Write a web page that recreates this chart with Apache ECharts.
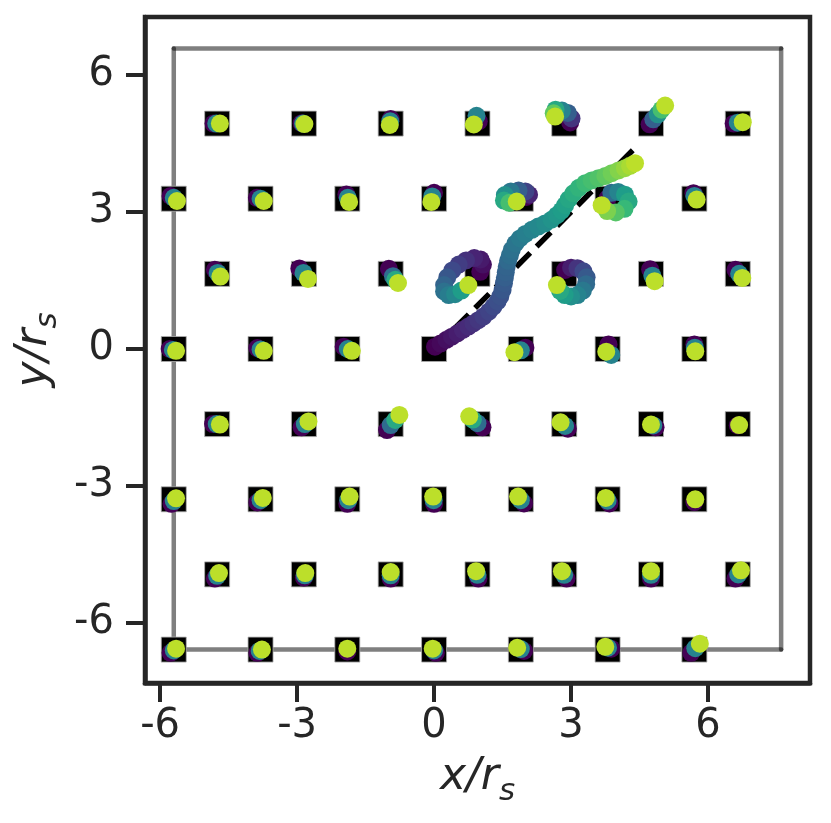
<!DOCTYPE html>
<html><head><meta charset="utf-8">
<script src="https://cdn.jsdelivr.net/npm/echarts@6/dist/echarts.min.js"></script>
<style>html,body{margin:0;padding:0;background:#fff}#c{width:831px;height:823px}</style>
</head><body><div id="c"></div>
<script>
// ---- axes ----
const xTicks = [-6, -3, 0, 3, 6];
const yTicks = [-6, -3, 0, 3, 6];
// ---- lattice sites (hexagonal, rows from top to bottom) ----
const rowY = [4.936, 3.291, 1.645, 0, -1.645, -3.291, -4.936, -6.582];
const oddRowX = [-4.75, -2.85, -0.95, 0.95, 2.85, 4.75, 6.65];
const evenRowX = [-5.7, -3.8, -1.9, 0, 1.9, 3.8, 5.7];
// ---- periodic box and drive direction ----
const boxCorners = [[-5.7, -6.582], [7.6, -6.582], [7.6, 6.582], [-5.7, 6.582]];
const driveLine = [[0, 0], [4.47, 4.47]];
// ---- small trails: offsets [dx, dy, t] from each site (null = long trail listed below) ----
const trailsRow0 = [
  [[-0.08,0,0],[-0.02,0,0.45],[0.06,0,0.9]],
  [[-0.05,0.01,0],[-0.02,0,0.45],[0.01,-0.01,0.9]],
  [[0,0.1,0],[-0.01,0.05,0.45],[-0.02,-0.03,0.9]],
  [[0.03,0.05,0],[-0.02,0.17,0.45],[-0.08,-0.02,0.9]],
  null, null,
  [[-0.09,0,0],[0,0.02,0.45],[0.11,0.03,0.9]]
];
const trailsRow1 = [
  [[-0.07,0.06,0],[0,0.02,0.45],[0.07,-0.05,0.9]],
  [[-0.08,0.02,0],[0,0,0.45],[0.07,-0.05,0.9]],
  [[-0.02,0.09,0],[0.01,0.02,0.45],[0.04,-0.07,0.9]],
  [[0,0.13,0],[-0.04,0.05,0.45],[-0.06,-0.07,0.9]],
  null, null,
  [[-0.02,0.12,0],[0,0.06,0.45],[0.05,-0.02,0.9]]
];
const trailsRow2 = [
  [[-0.05,0.09,0],[0.01,0.02,0.45],[0.07,-0.06,0.9]],
  [[-0.1,0.12,0],[-0.01,0.02,0.45],[0.09,-0.11,0.9]],
  [[-0.04,0.11,0],[0.05,-0.05,0.35],[0.1,-0.13,0.6],[0.16,-0.2,0.9]],
  null, null,
  [[-0.02,0.1,0],[0.03,-0.04,0.45],[0.08,-0.16,0.9]],
  [[-0.05,0.09,0],[0.03,0,0.45],[0.1,-0.09,0.9]]
];
const trailsRow3 = [
  [[-0.09,0,0],[-0.02,-0.02,0.45],[0.05,-0.04,0.9]],
  [[-0.07,0.02,0],[0,-0.01,0.45],[0.07,-0.04,0.9]],
  [[-0.08,0.05,0],[0.01,0,0.45],[0.1,-0.04,0.9]],
  null,
  [[0.1,0.03,0],[0,-0.03,0.45],[-0.14,-0.07,0.9]],
  [[0.02,0.1,0],[0.08,-0.13,0.45],[-0.03,-0.06,0.9]],
  [[0,0.1,0],[0.01,0.03,0.45],[0.02,-0.05,0.9]]
];
const trailsRow4 = [
  [[-0.09,0,0],[-0.01,0,0.45],[0.06,-0.01,0.9]],
  [[-0.05,-0.07,0],[0.02,0,0.45],[0.1,0.06,0.9]],
  [[-0.08,-0.13,0],[0,-0.02,0.35],[0.1,0.09,0.6],[0.19,0.2,0.9]],
  [[0.11,-0.07,0],[0,0.02,0.35],[-0.1,0.1,0.6],[-0.18,0.17,0.9]],
  [[0.08,-0.1,0],[0.02,-0.04,0.45],[-0.08,0.04,0.9]],
  [[0.1,-0.07,0],[0.05,-0.03,0.45],[0,-0.01,0.9]],
  [[0,-0.03,0],[0.03,-0.02,0.9]]
];
const trailsRow5 = [
  [[-0.05,-0.1,0],[0,-0.04,0.45],[0.05,0.02,0.9]],
  [[-0.07,-0.07,0],[0,-0.02,0.45],[0.05,0.03,0.9]],
  [[0,-0.1,0],[0.02,-0.02,0.45],[0.05,0.06,0.9]],
  [[0,-0.1,0],[-0.01,-0.02,0.45],[-0.02,0.06,0.9]],
  [[0.07,-0.09,0],[0,-0.02,0.45],[-0.06,0.06,0.9]],
  [[0.04,-0.09,0],[0,-0.03,0.45],[-0.04,0.03,0.9]],
  [[0,-0.06,0],[0.02,0,0.9]]
];
const trailsRow6 = [
  [[-0.05,-0.09,0],[0,-0.03,0.45],[0.04,0.03,0.9]],
  [[0,-0.07,0],[0.02,-0.02,0.45],[0.03,0.03,0.9]],
  [[0,-0.09,0],[0,-0.02,0.45],[0,0.05,0.9]],
  [[0.02,-0.09,0],[0,-0.01,0.45],[-0.03,0.07,0.9]],
  [[0.05,-0.09,0],[0,-0.01,0.45],[-0.05,0.07,0.9]],
  [[0,-0.09,0],[0,-0.01,0.45],[0,0.07,0.9]],
  [[-0.05,-0.09,0],[0.01,0,0.45],[0.07,0.09,0.9]]
];
const trailsRow7 = [
  [[-0.07,-0.07,0],[0,-0.02,0.45],[0.05,0.02,0.9]],
  [[-0.07,-0.07,0],[-0.02,-0.03,0.45],[0.03,0,0.9]],
  [[0,-0.04,0],[0,0.02,0.9]],
  [[0.04,-0.07,0],[0,-0.02,0.45],[-0.03,0.02,0.9]],
  [[0.07,-0.03,0],[0,0.01,0.45],[-0.08,0.04,0.9]],
  [[0.08,0.02,0],[0.01,0.04,0.45],[-0.05,0.06,0.9]],
  [[-0.07,-0.07,0],[0.02,0.03,0.45],[0.12,0.13,0.9]]
];
// ---- long trails: absolute [x, y, t] ----
const trailSite_2_85_4_94 = [[2.98,4.96,0],[3.01,5.05,0.15],[2.93,5.17,0.3],[2.80,5.22,0.45],[2.66,5.24,0.6],[2.62,5.16,0.75],[2.65,5.09,0.9]];
const trailSite_4_75_4_94 = [[4.72,4.92,0],[4.80,5.03,0.3],[4.90,5.14,0.5],[4.98,5.24,0.7],[5.06,5.33,0.9]];
const trailSite_1_9_3_29 = [[2.02,3.33,0],[2.08,3.38,0.1],[2.0,3.45,0.2],[1.85,3.47,0.3],[1.68,3.45,0.4],[1.55,3.37,0.5],[1.53,3.25,0.6],[1.65,3.20,0.7],[1.81,3.23,0.9]];
const trailSite_3_8_3_29 = [[3.80,3.30,0],[3.88,3.42,0.35],[4.03,3.44,0.45],[4.18,3.38,0.55],[4.26,3.23,0.6],[4.17,3.07,0.67],[3.98,2.99,0.73],[3.79,3.02,0.8],[3.67,3.15,0.9]];
const trailSite_0_95_1_65 = [[1.01,1.69,0],[1.07,1.85,0.04],[1.02,1.96,0.07],[0.88,1.99,0.1],[0.70,1.94,0.14],[0.54,1.85,0.18],[0.40,1.72,0.22],[0.29,1.57,0.27],[0.22,1.40,0.32],[0.22,1.26,0.37],[0.32,1.18,0.42],[0.46,1.20,0.47],[0.60,1.28,0.55],[0.75,1.40,0.9]];
const trailSite_2_85_1_65 = [[2.87,1.73,0],[3.00,1.78,0.08],[3.14,1.77,0.15],[3.27,1.70,0.22],[3.34,1.57,0.28],[3.33,1.42,0.34],[3.26,1.28,0.4],[3.14,1.18,0.45],[3.00,1.15,0.5],[2.86,1.18,0.55],[2.76,1.27,0.6],[2.69,1.40,0.9]];
const trailDriven = [
  [0.02,0.05,0.00],[0.14,0.12,0.02],[0.27,0.20,0.04],[0.39,0.27,0.06],[0.51,0.34,0.08],[0.63,0.42,0.10],
  [0.75,0.49,0.12],[0.86,0.56,0.14],[0.97,0.63,0.16],[1.08,0.71,0.18],[1.20,0.82,0.20],[1.30,0.93,0.22],
  [1.39,1.04,0.24],[1.45,1.15,0.25],[1.50,1.29,0.27],[1.53,1.44,0.28],[1.55,1.56,0.30],[1.57,1.68,0.31],
  [1.59,1.80,0.32],[1.62,1.93,0.34],[1.66,2.05,0.36],[1.70,2.17,0.37],[1.78,2.31,0.39],[1.88,2.42,0.41],
  [2.00,2.52,0.43],[2.14,2.61,0.45],[2.28,2.68,0.47],[2.43,2.75,0.49],[2.57,2.83,0.51],[2.69,2.93,0.53],
  [2.79,3.03,0.55],[2.87,3.15,0.57],[2.95,3.28,0.59],[3.05,3.41,0.62],[3.17,3.53,0.65],[3.31,3.63,0.68],
  [3.45,3.69,0.70],[3.60,3.74,0.72],[3.75,3.79,0.75],[3.89,3.85,0.78],[4.04,3.91,0.81],[4.18,3.96,0.84],
  [4.29,4.01,0.87],[4.40,4.07,0.90]
];
const viridis = ['#440154','#482878','#3e4a89','#31688e','#26828e','#1f9e89','#35b779','#6ece58','#b5de2b','#fde725'];

// ---- build ----
const rowTrails = [trailsRow0, trailsRow1, trailsRow2, trailsRow3, trailsRow4, trailsRow5, trailsRow6, trailsRow7];
const longTrails = {
  '0,4': trailSite_2_85_4_94, '0,5': trailSite_4_75_4_94,
  '1,4': trailSite_1_9_3_29, '1,5': trailSite_3_8_3_29,
  '2,3': trailSite_0_95_1_65, '2,4': trailSite_2_85_1_65,
  '3,3': trailDriven
};
const sites = [];
const trailPts = [];
rowY.forEach((y, r) => {
  const xs = (r % 2 === 0) ? oddRowX : evenRowX;
  xs.forEach((x, c) => {
    sites.push([x, y]);
    const off = rowTrails[r][c];
    if (off) off.forEach(p => trailPts.push([x + p[0], y + p[1], p[2]]));
    else longTrails[r + ',' + c].forEach(p => trailPts.push(p.slice()));
  });
});

const txt = '#262626';
const FONT = 'DejaVu Sans';
const boxSeries = boxCorners.map((p, i) => ({
  type: 'line', data: [p, boxCorners[(i + 1) % boxCorners.length]], z: 1,
  showSymbol: false, silent: true, animation: false,
  lineStyle: { color: 'rgba(0,0,0,0.5)', width: 4.5, cap: 'round' }
}));

const nameRich = {
  a: { fontSize: 44, fontStyle: 'italic', fontFamily: FONT, color: txt, verticalAlign: 'top', lineHeight: 50 },
  b: { fontSize: 31, fontStyle: 'italic', fontFamily: FONT, color: txt, verticalAlign: 'top', lineHeight: 36, padding: [20, 0, 0, 0] }
};

const chart = echarts.init(document.getElementById('c'), null, { renderer: 'canvas' });
chart.setOption({
  animation: false,
  backgroundColor: '#ffffff',
  grid: { left: 145, right: 21, top: 17, bottom: 140, show: true, borderColor: txt, borderWidth: 4.5, backgroundColor: 'transparent' },
  xAxis: {
    type: 'value', min: -6.33, max: 8.232,
    axisLine: { show: true, onZero: false, lineStyle: { color: txt, width: 4.5 } },
    axisTick: { show: true, customValues: xTicks, length: 19, lineStyle: { color: txt, width: 4 } },
    axisLabel: { customValues: xTicks, fontSize: 40, fontFamily: FONT, color: txt, margin: 24 },
    splitLine: { show: false },
    name: '{a|x/r}{b|s}', nameLocation: 'middle', nameGap: 73,
    nameTextStyle: { rich: nameRich }
  },
  yAxis: {
    type: 'value', min: -7.314, max: 7.27,
    axisLine: { show: true, onZero: false, lineStyle: { color: txt, width: 4.5 } },
    axisTick: { show: true, customValues: yTicks, length: 19, lineStyle: { color: txt, width: 4 } },
    axisLabel: { customValues: yTicks, fontSize: 40, fontFamily: FONT, color: txt, margin: 31 },
    splitLine: { show: false },
    name: '{a|y/r}{b|s}', nameLocation: 'middle', nameGap: 80, nameRotate: 90,
    nameTextStyle: { rich: nameRich }
  },
  visualMap: {
    type: 'continuous', show: false, seriesIndex: boxSeries.length + 2, dimension: 2,
    min: 0, max: 1, inRange: { color: viridis }
  },
  series: boxSeries.concat([
    {
      type: 'scatter', data: sites, symbol: 'rect', symbolSize: 25, silent: true, z: 2,
      itemStyle: { color: '#000000', borderColor: '#b0b0b0', borderWidth: 0.8, opacity: 1 }
    },
    {
      type: 'line', data: driveLine, showSymbol: false, silent: true, z: 3,
      lineStyle: { color: '#000000', width: 5.5, type: [20, 9], cap: 'butt' }
    },
    {
      type: 'scatter', data: trailPts, symbolSize: 18, silent: true, large: false, progressive: 0, z: 4,
      itemStyle: { opacity: 1 }
    }
  ])
});
</script>
</body></html>
